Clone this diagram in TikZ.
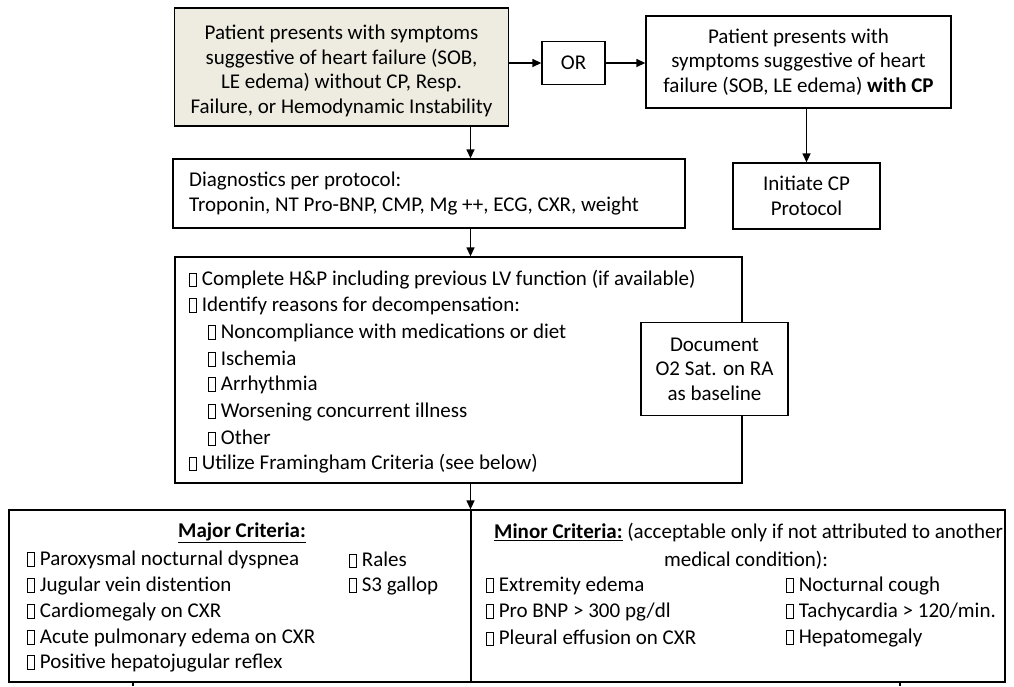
\documentclass[tikz,border=0pt]{standalone}
\usepackage{fontspec}
\setmainfont{Carlito}
\usepackage{xcolor}
\usepackage{tikz}
\usetikzlibrary{arrows.meta}
\definecolor{shade}{RGB}{238,236,225}
\newcommand{\chkbox}{\raisebox{-0.5pt}{\setlength{\fboxsep}{0pt}\setlength{\fboxrule}{0.7pt}\fbox{\rule{0pt}{13pt}\hspace{6.5pt}}}}
\tikzset{
	box/.style={draw, line width=1.3pt, align=center, inner sep=0pt},
	arr/.style={line width=1.3pt, -{Triangle[length=9pt,width=8pt]}},
	link/.style={line width=1.3pt},
	item/.style={anchor=west, inner sep=0pt},
}

\begin{document}
\begin{tikzpicture}[x=1pt, y=-1pt, font=\fontsize{21}{24.5}\selectfont]
		\useasboundingbox (0,0) rectangle (1014,686);

				\node[box, fill=shade, minimum width=334pt, minimum height=118pt] (nocp) at (341.5,67) {\rule{0pt}{22pt}Patient presents with symptoms\\suggestive of heart failure (SOB,\\LE edema) without CP, Resp.\\Failure, or Hemodynamic Instability};
				\node[box, minimum width=63pt, minimum height=43pt] (or) at (573.5,63) {OR};
				\node[box, minimum width=305pt, minimum height=92pt] (withcp) at (798.5,62) {Patient presents with\\symptoms suggestive of heart\\failure (SOB, LE edema) \textbf{with CP}};
				\node[box, minimum width=147pt, minimum height=66pt] (cpprot) at (806.5,196) {Initiate CP\\Protocol};

				\node[box, minimum width=512pt, minimum height=69pt] (diag) at (429,193.5) {};
				\node[item] (diag1) at (189,181) {Diagnostics per protocol:};
				\node[item] (diag2) at (189,206) {Troponin, NT Pro-BNP, CMP, Mg ++, ECG, CXR, weight};

				\node[box, minimum width=567pt, minimum height=226pt] (check) at (458.5,370) {};
				\node[item] (hp) at (189,280) {\chkbox\ Complete H\&P including previous LV function (if available)};
				\node[item] (reason) at (189,306) {\chkbox\ Identify reasons for decompensation:};
				\node[item] (noncomp) at (208,333) {\chkbox\ Noncompliance with medications or diet};
				\node[item] (isch) at (208,359) {\chkbox\ Ischemia};
				\node[item] (arrh) at (208,385) {\chkbox\ Arrhythmia};
				\node[item] (worse) at (208,412) {\chkbox\ Worsening concurrent illness};
				\node[item] (other) at (208,438) {\chkbox\ Other};
				\node[item] (fram) at (189,464) {\chkbox\ Utilize Framingham Criteria (see below)};

				\node[box, fill=white, minimum width=147pt, minimum height=93pt] (doc) at (714.5,369) {Document\\O2 Sat. on RA\\as baseline};

				\node[box, minimum width=462pt, minimum height=172pt] (major) at (240,596) {};
				\node[box, minimum width=534pt, minimum height=172pt] (minor) at (738,596) {};

				\node (majhd) at (242,533) {\textbf{\underline{Major Criteria:}}};
				\node[item] (pnd) at (27,560) {\chkbox\ Paroxysmal nocturnal dyspnea};
				\node[item] (jvd) at (27,586) {\chkbox\ Jugular vein distention};
				\node[item] (cardio) at (27,612) {\chkbox\ Cardiomegaly on CXR};
				\node[item] (ape) at (27,638) {\chkbox\ Acute pulmonary edema on CXR};
				\node[item] (hjr) at (27,663) {\chkbox\ Positive hepatojugular reflex};
				\node[item] (rales) at (349,560) {\chkbox\ Rales};
				\node[item] (gallop) at (349,586) {\chkbox\ S3 gallop};

				\node[item] (minhd) at (494,533) {\textbf{\underline{Minor Criteria:}} (acceptable only if not attributed to another};
				\node (mincond) at (746,560) {medical condition):};
				\node[item] (edema) at (486,586) {\chkbox\ Extremity edema};
				\node[item] (bnp) at (486,612) {\chkbox\ Pro BNP > 300 pg/dl};
				\node[item] (pleural) at (486,638) {\chkbox\ Pleural effusion on CXR};
				\node[item] (cough) at (786,586) {\chkbox\ Nocturnal cough};
				\node[item] (tachy) at (786,612) {\chkbox\ Tachycardia > 120/min.};
				\node[item] (hepato) at (786,638) {\chkbox\ Hepatomegaly};

				\coordinate (spine) at (470.5,0);
				\coordinate (outL) at (133,686);
				\coordinate (outR) at (900,686);

				\draw[arr] (nocp.east |- or.west) -- (or.west);
				\draw[arr] (or.east) -- (withcp.west |- or.east);
				\draw[arr] (withcp.south -| cpprot.north) -- (cpprot.north);
				\draw[arr] (nocp.south -| spine) -- (diag.north -| spine);
				\draw[arr] (diag.south -| spine) -- (check.north -| spine);
				\draw[arr] (check.south -| spine) -- (major.north -| spine);
				\draw[link] (major.south -| outL) -- (outL);
				\draw[link] (minor.south -| outR) -- (outR);
		\end{tikzpicture}
\end{document}
